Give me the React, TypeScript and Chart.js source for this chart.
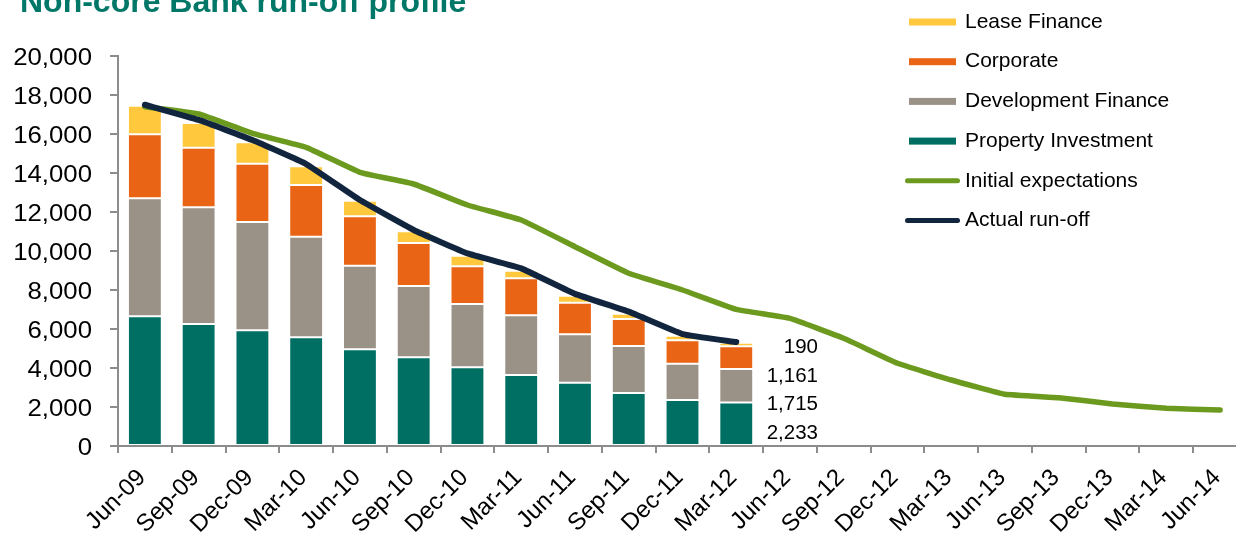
import React, { useEffect, useRef } from 'react';
import { Chart, registerables } from 'chart.js';

Chart.register(...registerables);

const TITLE = 'Non-core Bank run-off profile';

const categories = [
  'Jun-09', 'Sep-09', 'Dec-09', 'Mar-10', 'Jun-10', 'Sep-10', 'Dec-10', 'Mar-11',
  'Jun-11', 'Sep-11', 'Dec-11', 'Mar-12', 'Jun-12', 'Sep-12', 'Dec-12', 'Mar-13',
  'Jun-13', 'Sep-13', 'Dec-13', 'Mar-14', 'Jun-14',
];

const propertyInvestment = [6650, 6256, 5930, 5574, 4960, 4549, 4036, 3641, 3246, 2718, 2359, 2233];
const developmentFinance = [6050, 5984, 5555, 5159, 4287, 3656, 3246, 3061, 2482, 2410, 1861, 1715];
const corporate = [3285, 3060, 2990, 2651, 2533, 2205, 1933, 1898, 1621, 1385, 1200, 1161];
const leaseFinance = [1465, 1264, 1097, 959, 800, 600, 544, 390, 359, 272, 236, 190];

const initialExpectations = [
  17400, 17025, 16035, 15318, 14035, 13436, 12359, 11590, 10220, 8856, 8000,
  7010, 6546, 5523, 4241, 3385, 2651, 2477, 2154, 1933, 1846,
];
const actualRunOff = [17500, 16720, 15690, 14460, 12615, 11080, 9880, 9110, 7800, 6890, 5740, 5330];

const yMin = 0;
const yMax = 20000;
const yStep = 2000;

const COLORS = {
  lease: '#FFC83D',
  corporate: '#E96414',
  development: '#9B9287',
  property: '#006F63',
  initial: '#6B9A1F',
  actual: '#12253F',
  axis: '#8C8C8C',
  title: '#007767',
};

const FONT = '"Liberation Sans", Arial, Helvetica, sans-serif';
const fmt = (v: number) => v.toLocaleString('en-US');

const overlayPlugin = {
  id: 'overlay',
  afterDraw(chart: any) {
    const { ctx } = chart;
    const x = chart.scales.x;
    const y = chart.scales.y;
    ctx.save();

    // Title (partly cut off at the top, as in the reference)
    ctx.fillStyle = COLORS.title;
    ctx.font = `bold 32px ${FONT}`;
    ctx.textAlign = 'left';
    ctx.textBaseline = 'alphabetic';
    ctx.fillText(TITLE, 20, 12);

    // Y tick labels (slightly stretched like the reference)
    ctx.fillStyle = '#000';
    ctx.font = `23px ${FONT}`;
    y.ticks.forEach((t: any, i: number) => {
      const py = y.getPixelForTick(i);
      ctx.save();
      ctx.translate(92, py + 2.5);
      ctx.scale(1.12, 1);
      ctx.textAlign = 'right';
      ctx.textBaseline = 'middle';
      ctx.fillText(fmt(t.value), 0, 0);
      ctx.restore();
    });

    // X tick labels rotated 45 degrees
    ctx.font = `24px ${FONT}`;
    const xBase = x.top;
    x.ticks.forEach((t: any, i: number) => {
      const px = x.getPixelForTick(i);
      ctx.save();
      ctx.translate(px - 3, xBase + 28);
      ctx.rotate(-Math.PI / 4);
      ctx.textAlign = 'right';
      ctx.textBaseline = 'middle';
      ctx.fillText(String(chart.data.labels[i]), 0, 0);
      ctx.restore();
    });

    // Value labels for the latest quarter
    const last = propertyInvestment.length - 1;
    const catW = x.getPixelForValue(1) - x.getPixelForValue(0);
    const lx = x.getPixelForValue(last) + catW * 1.52;
    const vals = [propertyInvestment[last], developmentFinance[last], corporate[last], leaseFinance[last]];
    ctx.font = `20.5px ${FONT}`;
    ctx.textAlign = 'right';
    ctx.textBaseline = 'middle';
    const y0 = y.getPixelForValue(0);
    vals.forEach((v, k) => {
      ctx.fillText(fmt(v), lx, y0 - 12.5 - k * 28.7);
    });

    // Legend
    const order = ['Lease Finance', 'Corporate', 'Development Finance', 'Property Investment', 'Initial expectations', 'Actual run-off'];
    ctx.font = `21px ${FONT}`;
    ctx.textAlign = 'left';
    ctx.textBaseline = 'middle';
    order.forEach((label, k) => {
      const ds = chart.data.datasets.find((d: any) => d.label === label);
      const ry = 22 + k * 39.7;
      if (ds.type === 'line') {
        ctx.strokeStyle = ds.borderColor;
        ctx.lineWidth = 5;
        ctx.lineCap = 'round';
        ctx.beginPath();
        ctx.moveTo(907.5, ry);
        ctx.lineTo(957.5, ry);
        ctx.stroke();
      } else {
        ctx.fillStyle = ds.backgroundColor;
        ctx.fillRect(909, ry - 3.5, 47, 7);
      }
      ctx.fillStyle = '#000';
      ctx.fillText(label, 965, ry);
    });

    ctx.restore();
  },
};

export default function App() {
  const ref = useRef<HTMLCanvasElement>(null);

  useEffect(() => {
    if (!ref.current) return;
    const barCommon = {
      type: 'bar' as const,
      stack: 'bars',
      borderColor: '#FFFFFF',
      borderWidth: 1,
      borderSkipped: false,
      categoryPercentage: 1,
      barPercentage: 0.63,
      order: 2,
    };
    const chart = new Chart(ref.current, {
      type: 'bar',
      data: {
        labels: categories,
        datasets: [
          { ...barCommon, label: 'Property Investment', data: propertyInvestment, backgroundColor: COLORS.property },
          { ...barCommon, label: 'Development Finance', data: developmentFinance, backgroundColor: COLORS.development },
          { ...barCommon, label: 'Corporate', data: corporate, backgroundColor: COLORS.corporate },
          { ...barCommon, label: 'Lease Finance', data: leaseFinance, backgroundColor: COLORS.lease },
          {
            type: 'line',
            label: 'Initial expectations',
            data: initialExpectations,
            stack: 'initial',
            borderColor: COLORS.initial,
            backgroundColor: COLORS.initial,
            borderWidth: 5.5,
            pointRadius: 0,
            tension: 0.1,
            borderCapStyle: 'round',
            borderJoinStyle: 'round',
            fill: false,
            order: 1,
          } as any,
          {
            type: 'line',
            label: 'Actual run-off',
            data: actualRunOff,
            stack: 'actual',
            borderColor: COLORS.actual,
            backgroundColor: COLORS.actual,
            borderWidth: 6,
            pointRadius: 0,
            tension: 0.1,
            borderCapStyle: 'round',
            borderJoinStyle: 'round',
            fill: false,
            order: 0,
          } as any,
        ],
      },
      options: {
        responsive: false,
        animation: false,
        devicePixelRatio: 1,
        layout: { padding: { top: 56, right: 13, left: 0, bottom: 0 } },
        plugins: {
          legend: { display: false },
          tooltip: { enabled: false },
          title: { display: false },
        },
        scales: {
          x: {
            stacked: true,
            offset: true,
            ticks: { display: false },
            grid: {
              offset: true,
              drawOnChartArea: false,
              drawTicks: true,
              tickLength: 7,
              color: COLORS.axis,
              lineWidth: 2,
            },
            border: { display: true, color: COLORS.axis, width: 2 },
            afterFit: (s: any) => { s.height = 92; },
          },
          y: {
            stacked: true,
            min: yMin,
            max: yMax,
            ticks: { display: false, stepSize: yStep },
            grid: {
              drawOnChartArea: false,
              drawTicks: true,
              tickLength: 8,
              color: COLORS.axis,
              lineWidth: 2,
            },
            border: { display: true, color: COLORS.axis, width: 2 },
            afterFit: (s: any) => { s.width = 118; },
          },
        },
      } as any,
      plugins: [overlayPlugin],
    });
    return () => chart.destroy();
  }, []);

  return (
    <div
      style={{
        position: 'absolute',
        left: 0,
        top: 0,
        width: 1236,
        height: 538,
        overflow: 'hidden',
        background: '#FFFFFF',
      }}
    >
      <canvas ref={ref} width={1260} height={538} style={{ display: 'block', width: 1260, height: 538 }} />
    </div>
  );
}
